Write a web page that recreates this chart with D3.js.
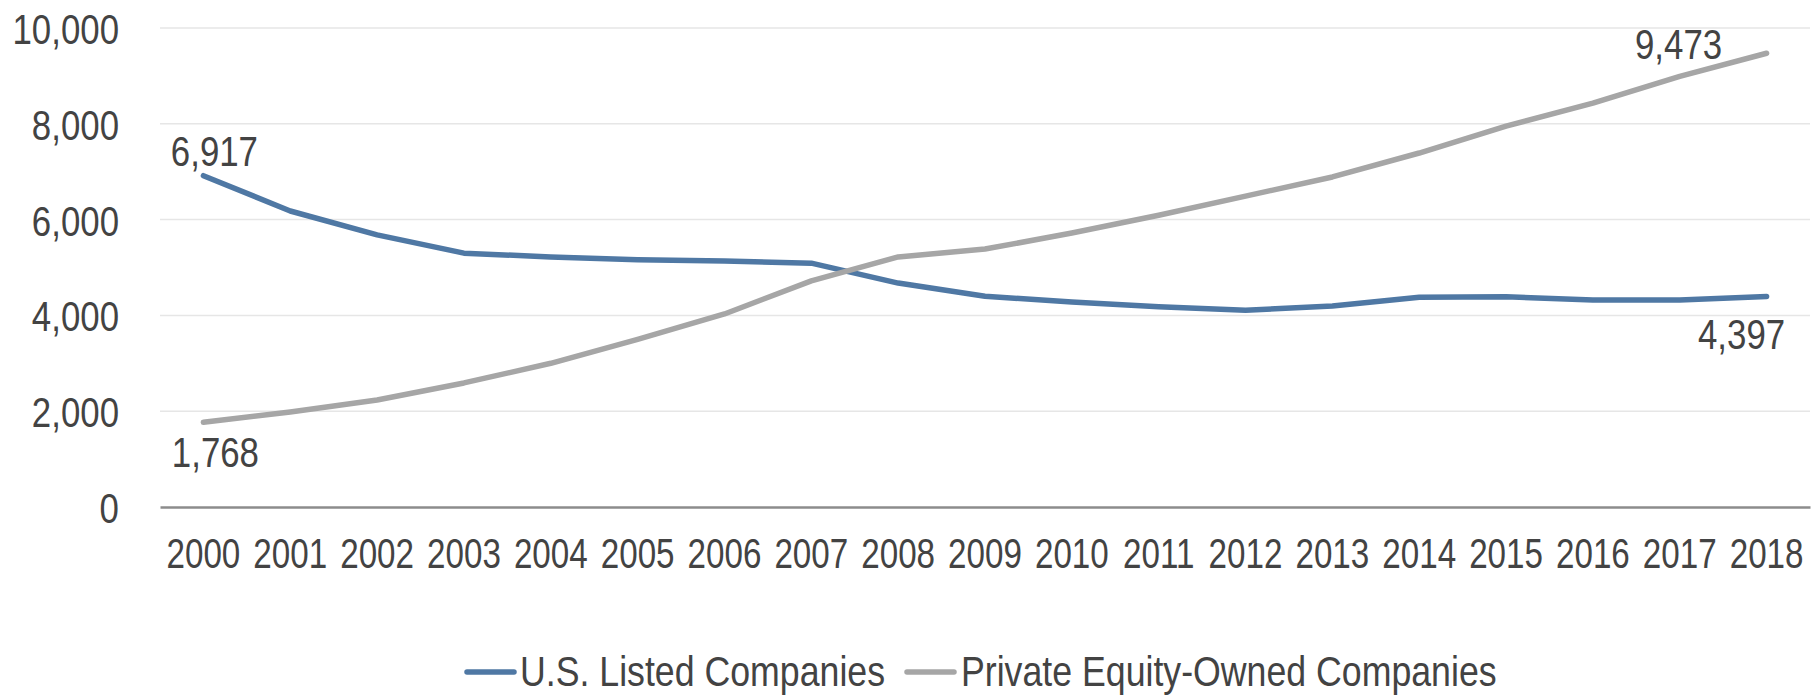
<!DOCTYPE html>
<html>
<head>
<meta charset="utf-8">
<script src="https://cdn.jsdelivr.net/npm/d3@7"></script>
<style>
  html, body { margin: 0; padding: 0; background: #fff; }
  svg text { font-family: "Liberation Sans Narrow", "Arial Narrow", "Liberation Sans", Arial, sans-serif; fill: #434343; }
</style>
</head>
<body>
<svg id="chart" width="1818" height="696"></svg>
<script>
const years = ["2000","2001","2002","2003","2004","2005","2006","2007","2008","2009","2010","2011","2012","2013","2014","2015","2016","2017","2018"];
const usListed = [6917, 6180, 5680, 5300, 5220, 5160, 5135, 5090, 4675, 4400, 4280, 4180, 4110, 4195, 4380, 4390, 4320, 4320, 4397];
const peOwned = [1768, 1985, 2235, 2590, 3000, 3500, 4030, 4720, 5220, 5385, 5720, 6090, 6490, 6890, 7390, 7950, 8430, 8990, 9473];
const yTicks = [0, 2000, 4000, 6000, 8000, 10000];
const seriesNames = ["U.S. Listed Companies", "Private Equity-Owned Companies"];
const colors = ["#4f78a4", "#a6a6a6"];

const svg = d3.select("#chart");
const plotLeft = 160, plotRight = 1810, plotTop = 28, plotBottom = 507;

const x = d3.scaleBand().domain(years).range([plotLeft, plotRight]);
const y = d3.scaleLinear().domain([0, 10000]).range([plotBottom, plotTop]);
const fmt = d3.format(",");

// condense text horizontally (narrow font look)
function condense(sel, f) {
  sel.each(function () {
    const w = this.getComputedTextLength();
    d3.select(this).attr("textLength", w * f).attr("lengthAdjust", "spacingAndGlyphs");
  });
}

// gridlines
svg.append("g")
  .selectAll("line").data(yTicks.filter(t => t > 0)).join("line")
  .attr("x1", plotLeft).attr("x2", plotRight)
  .attr("y1", d => y(d)).attr("y2", d => y(d))
  .attr("stroke", "#e6e6e6").attr("stroke-width", 1.5);

// y axis labels
const yAxis = svg.append("g").attr("transform", `translate(${plotLeft},0)`)
  .call(d3.axisLeft(y).tickValues(yTicks).tickFormat(fmt).tickSize(0).tickPadding(41));
yAxis.select(".domain").remove();
yAxis.selectAll("text").style("font-size", "43px").attr("dy", "0.36em").call(condense, 0.81);

// x axis
const xAxis = svg.append("g").attr("transform", `translate(0,${plotBottom})`)
  .call(d3.axisBottom(x).tickSize(0).tickPadding(61));
xAxis.select(".domain").attr("stroke", "#8c8c8c").attr("stroke-width", 2.5);
xAxis.selectAll("text").style("font-size", "42px").attr("dy", "0").call(condense, 0.79);

const cx = d => x(d) + x.bandwidth() / 2;
const line = d3.line().x((d, i) => cx(years[i])).y(d => y(d));

[usListed, peOwned].forEach((s, k) => {
  svg.append("path").datum(s)
    .attr("d", line)
    .attr("fill", "none")
    .attr("stroke", colors[k])
    .attr("stroke-width", 5.5)
    .attr("stroke-linecap", "round")
    .attr("stroke-linejoin", "round");
});

// data labels (first and last of each series)
const last = years.length - 1;
const labels = [
  { v: usListed[0], xi: 0, dx: 11, dy: -10 },
  { v: peOwned[0], xi: 0, dx: 12, dy: 45 },
  { v: peOwned[last], xi: last, dx: -88, dy: 6 },
  { v: usListed[last], xi: last, dx: -25, dy: 53 }
];
svg.append("g").selectAll("text").data(labels).join("text")
  .attr("x", d => cx(years[d.xi]) + d.dx)
  .attr("y", d => y(d.v) + d.dy)
  .attr("text-anchor", "middle")
  .style("font-size", "43px")
  .text(d => fmt(d.v))
  .call(condense, 0.81);

// legend
const legend = svg.append("g");
const legendItems = [
  { name: seriesNames[0], color: colors[0], x0: 465, tx: 520 },
  { name: seriesNames[1], color: colors[1], x0: 905, tx: 961 }
];
legendItems.forEach(it => {
  legend.append("line")
    .attr("x1", it.x0 + 2).attr("x2", it.x0 + 49)
    .attr("y1", 672).attr("y2", 672)
    .attr("stroke", it.color).attr("stroke-width", 5.5)
    .attr("stroke-linecap", "round");
  legend.append("text")
    .attr("x", it.tx).attr("y", 686)
    .style("font-size", "43px")
    .text(it.name)
    .call(condense, 0.83);
});
</script>
</body>
</html>
